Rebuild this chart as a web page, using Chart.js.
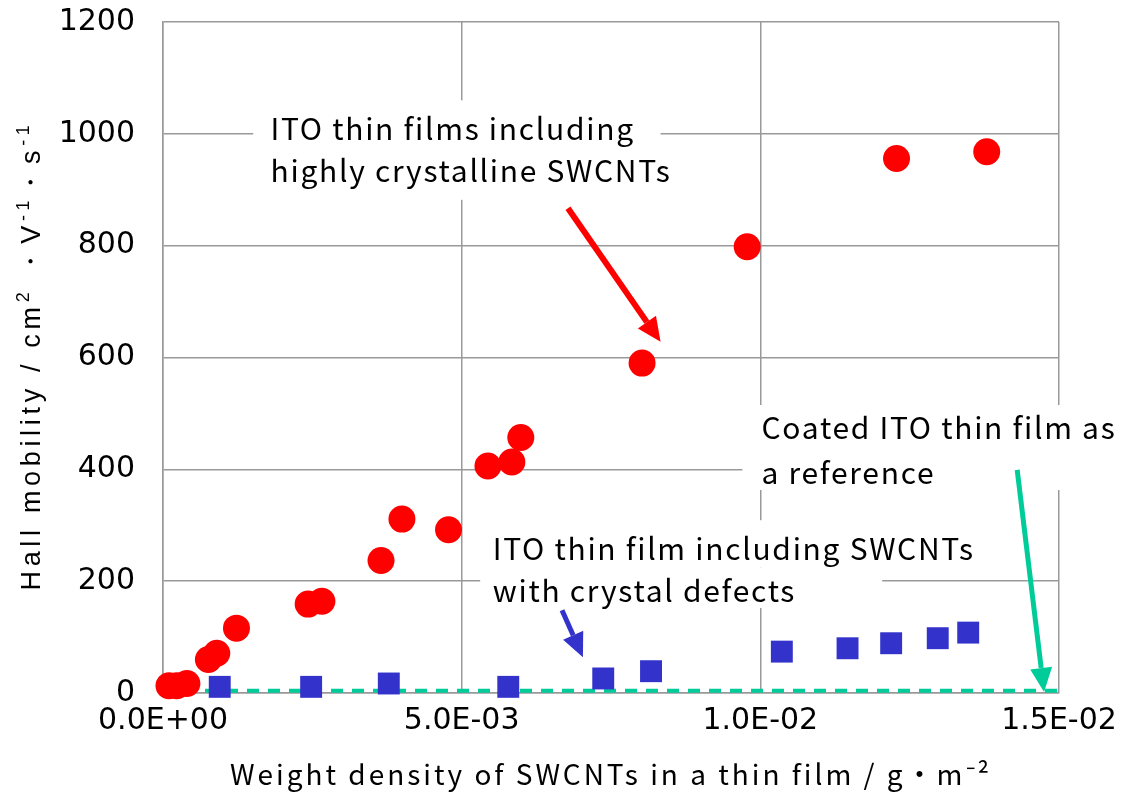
<!DOCTYPE html>
<html><head><meta charset="utf-8">
<script src="https://cdn.jsdelivr.net/npm/chart.js@4/dist/chart.umd.min.js"></script>
<style>html,body{margin:0;padding:0;background:#fff;overflow:hidden}</style>
</head><body>
<canvas id="c" width="1134" height="796"></canvas>
<script>
// ---- data ----
const crystallineX = [0.0001, 0.00023, 0.0004, 0.00076, 0.0009, 0.00123, 0.00243, 0.00266, 0.00365, 0.0040, 0.00478, 0.00544, 0.00584, 0.00599, 0.00802, 0.00978, 0.01228, 0.01379];
const crystallineY = [13, 13, 17, 60, 71, 116, 159, 164, 237, 311, 292, 406, 413, 457, 590, 798, 956, 968];
const defectX = [0.00095, 0.00248, 0.00378, 0.00578, 0.00737, 0.00817, 0.01036, 0.01146, 0.01219, 0.01297, 0.01348];
const defectY = [11, 11, 17, 11, 26, 39, 74, 80, 89, 98, 108];
const referenceX = [0, 0.015];
const referenceY = [4, 4];
const xTickValues = [0, 0.005, 0.01, 0.015];
const xTickLabels = ['0.0E+00', '5.0E-03', '1.0E-02', '1.5E-02'];
const yTickValues = [0, 200, 400, 600, 800, 1000, 1200];
const yTickLabels = ['0', '200', '400', '600', '800', '1000', '1200'];
const xTitleText = 'Weight density of SWCNTs in a thin film / g・m⁻²';
const yTitleRuns = [
  {t: 'Hall mobility / cm', sup: false},
  {t: '2', sup: true},
  {t: ' ・V', sup: false},
  {t: '-1', sup: true},
  {t: '・s', sup: false},
  {t: '-1', sup: true}
];

// ---- annotations (data units) ----
const maskBoxes = [
  [0.00151, 0.00833, 882, 1060],
  [0.00531, 0.01383, 224, 309],
  [0.00531, 0.01204, 152, 224],
  [0.0097, 0.0163, 363, 515]
];
const notes = [
  {x: 0.00180, y: 1010, text: 'ITO thin films including'},
  {x: 0.00180, y: 935, text: 'highly crystalline SWCNTs'},
  {x: 0.00552, y: 259, text: 'ITO thin film including SWCNTs'},
  {x: 0.00552, y: 184, text: 'with crystal defects'},
  {x: 0.01002, y: 474, text: 'Coated ITO thin film as'},
  {x: 0.01002, y: 395, text: 'a reference'}
];
const arrows = [
  {x0: 0.00678, y0: 867, x1: 0.00833, y1: 628, color: '#ff0000', w: 6},
  {x0: 0.00668, y0: 148, x1: 0.00703, y1: 64, color: '#3333cc', w: 5},
  {x0: 0.0143, y0: 399, x1: 0.01475, y1: 2, color: '#00cc99', w: 5}
];

function drawRuns(ctx, runs, cx, baseY, targetW) {
  let natural = 0, chars = 0;
  for (const r of runs) {
    ctx.font = r.font; ctx.letterSpacing = '0px';
    r.w = ctx.measureText(r.t).width; r.n = [...r.t].length;
    natural += r.w; chars += r.n;
  }
  const ls = targetW ? (targetW - natural) / chars : 0;
  let x = cx - (natural + ls * chars) / 2;
  for (const r of runs) {
    ctx.font = r.font; ctx.letterSpacing = ls + 'px';
    ctx.fillText(r.t, x, baseY + (r.dy || 0));
    x += r.w + ls * r.n;
  }
  ctx.letterSpacing = '0px';
}

const annotPlugin = {
  id: 'annots',
  beforeDatasetsDraw(chart) {
    const {ctx, scales: {x, y}} = chart;
    ctx.save();
    ctx.fillStyle = '#ffffff';
    for (const b of maskBoxes) {
      const x0 = x.getPixelForValue(b[0]), x1 = x.getPixelForValue(b[1]);
      const y0 = y.getPixelForValue(b[2]), y1 = y.getPixelForValue(b[3]);
      ctx.fillRect(x0, y1, x1 - x0, y0 - y1);
    }
    ctx.fillStyle = '#000';
    ctx.font = '30px "Noto Sans CJK JP"';
    ctx.letterSpacing = '1.7px';
    ctx.textBaseline = 'middle';
    ctx.textAlign = 'left';
    for (const n of notes) {
      ctx.fillText(n.text, x.getPixelForValue(n.x), y.getPixelForValue(n.y));
    }
    ctx.letterSpacing = '0px';
    ctx.restore();
  },
  afterDatasetsDraw(chart) {
    const {ctx, scales: {x, y}} = chart;
    ctx.save();
    for (const a of arrows) {
      const px0 = x.getPixelForValue(a.x0), py0 = y.getPixelForValue(a.y0);
      const px1 = x.getPixelForValue(a.x1), py1 = y.getPixelForValue(a.y1);
      const ang = Math.atan2(py1 - py0, px1 - px0);
      const hl = 24, hw = 11;
      const bx = px1 - hl * Math.cos(ang), by = py1 - hl * Math.sin(ang);
      ctx.strokeStyle = a.color; ctx.fillStyle = a.color; ctx.lineWidth = a.w;
      ctx.beginPath(); ctx.moveTo(px0, py0); ctx.lineTo(bx, by); ctx.stroke();
      ctx.beginPath();
      ctx.moveTo(px1, py1);
      ctx.lineTo(bx + hw * Math.sin(ang), by - hw * Math.cos(ang));
      ctx.lineTo(bx - hw * Math.sin(ang), by + hw * Math.cos(ang));
      ctx.closePath(); ctx.fill();
    }
    ctx.restore();
  },
  afterDraw(chart) {
    const {ctx, chartArea} = chart;
    ctx.save();
    ctx.fillStyle = '#000';
    ctx.textAlign = 'left';
    ctx.textBaseline = 'alphabetic';
    // x axis title
    drawRuns(ctx, [{t: xTitleText, font: '28px "Noto Sans CJK JP"'}], (chartArea.left + chartArea.right) / 2, 785, 762);
    // y axis title
    ctx.translate(40, (chartArea.top + chartArea.bottom) / 2 - 2);
    ctx.rotate(-Math.PI / 2);
    const runs = yTitleRuns.map(r => ({t: r.t, font: r.sup ? '18px "Liberation Sans"' : '27px "Liberation Sans"', dy: r.sup ? -11 : 0}));
    drawRuns(ctx, runs, 0, 0, 470);
    ctx.restore();
  }
};

const toPts = (xs, ys) => xs.map((v, i) => ({x: v, y: ys[i]}));

new Chart(document.getElementById('c'), {
  type: 'scatter',
  data: {
    datasets: [
      {label: 'ITO thin films including highly crystalline SWCNTs', data: toPts(crystallineX, crystallineY), pointStyle: 'circle', pointRadius: 13.5, pointHoverRadius: 13.5, backgroundColor: '#ff0000', borderColor: '#ff0000', borderWidth: 0, order: 1, clip: false},
      {label: 'ITO thin film including SWCNTs with crystal defects', data: toPts(defectX, defectY), pointStyle: 'rect', pointRadius: 15.5, pointHoverRadius: 15.5, backgroundColor: '#3333cc', borderColor: '#3333cc', borderWidth: 0, order: 2, clip: false},
      {label: 'Coated ITO thin film as a reference', type: 'line', data: toPts(referenceX, referenceY), showLine: true, pointRadius: 0, borderColor: '#00cc99', borderWidth: 4, borderDash: [12, 9], fill: false, order: 3}
    ]
  },
  options: {
    responsive: false,
    animation: false,
    devicePixelRatio: 1,
    layout: {autoPadding: false, padding: {top: 22, right: 75, left: 0, bottom: 0}},
    plugins: {legend: {display: false}, tooltip: {enabled: false}},
    scales: {
      x: {
        type: 'linear', min: 0, max: 0.015,
        afterBuildTicks: s => { s.ticks = xTickValues.map(v => ({value: v})); },
        afterFit: s => { s.height = 103; s.paddingLeft = 0; s.paddingRight = 0; },
        ticks: {callback: (v, i) => xTickLabels[i], font: {family: 'DejaVu Sans', size: 30}, color: '#000', padding: 10, maxRotation: 0, autoSkip: false},
        grid: {color: '#999', lineWidth: 1.5, drawTicks: false},
        border: {color: '#999', width: 1.5},
        title: {display: false}
      },
      y: {
        type: 'linear', min: 0, max: 1200,
        afterBuildTicks: s => { s.ticks = yTickValues.map(v => ({value: v})); },
        afterFit: s => { s.width = 163; s.paddingTop = 0; s.paddingBottom = 0; },
        ticks: {callback: (v, i) => yTickLabels[i], font: {family: 'DejaVu Sans', size: 30}, color: '#000', padding: 28},
        grid: {color: '#999', lineWidth: 1.5, drawTicks: false},
        border: {color: '#999', width: 1.5},
        title: {display: false}
      }
    }
  },
  plugins: [annotPlugin]
});
</script>
</body></html>
